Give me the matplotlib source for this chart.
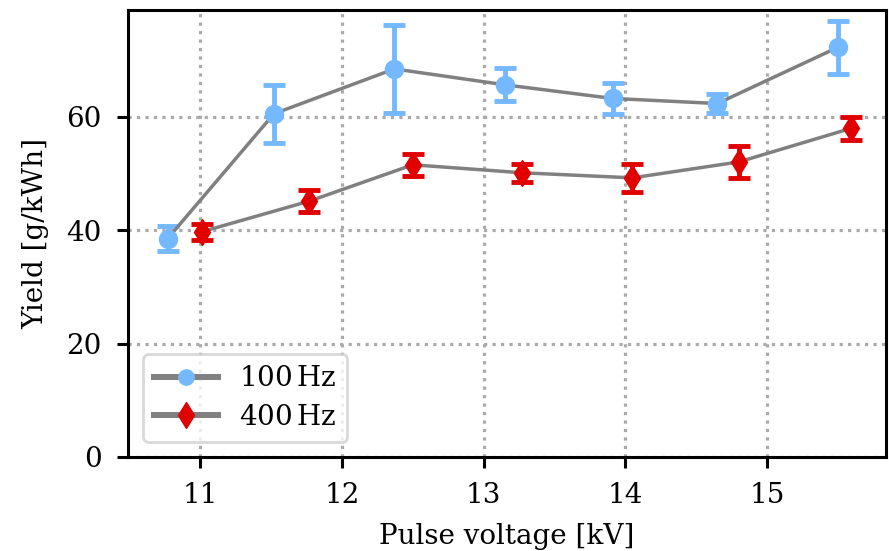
import matplotlib
matplotlib.use("Agg")
import matplotlib.pyplot as plt
from matplotlib.lines import Line2D

plt.rcParams['font.family'] = ['DejaVu Serif']
plt.rcParams['mathtext.fontset'] = 'dejavuserif'

x100 = [10.77, 11.52, 12.37, 13.15, 13.91, 14.65, 15.50]
y100 = [38.5, 60.5, 68.4, 65.6, 63.2, 62.3, 72.2]
e100 = [2.2, 5.1, 7.8, 2.9, 2.7, 1.6, 4.7]

x400 = [11.01, 11.77, 12.50, 13.27, 14.05, 14.80, 15.59]
y400 = [39.7, 45.1, 51.5, 50.1, 49.2, 52.0, 57.9]
e400 = [1.4, 2.0, 1.9, 1.6, 2.5, 2.9, 2.0]

labels = ['100$\\,$Hz', '400$\\,$Hz']
c100 = '#74b9ff'
c400 = '#e00000'

fig = plt.figure(figsize=(8.89, 5.51), dpi=100)
ax = fig.add_axes([0.144, 0.1706, 0.8526, 0.8114])

ax.errorbar(x100, y100, yerr=e100, color='gray', lw=2.5, marker='o', ms=13,
            mfc=c100, mec=c100, ecolor=c100, elinewidth=3.5,
            capsize=8, capthick=3.5, zorder=3)
ax.errorbar(x400, y400, yerr=e400, color='gray', lw=2.5, marker='d', ms=13,
            mfc=c400, mec=c400, ecolor=c400, elinewidth=3.5,
            capsize=8, capthick=3.5, zorder=3)

ax.set_xlim(10.49, 15.84)
ax.set_ylim(0, 78.8)
ax.set_xticks([11, 12, 13, 14, 15])
ax.set_yticks([0, 20, 40, 60])
ax.grid(True, linestyle=':', color='#aaaaaa', lw=2.3)
ax.set_axisbelow(True)
for s in ax.spines.values():
    s.set_linewidth(2.2)
ax.tick_params(labelsize=20, width=2.2, length=8)
ax.tick_params(axis='x', pad=10)
ax.tick_params(axis='y', pad=11)
ax.set_xlabel('Pulse voltage [kV]', fontsize=20, labelpad=10)
ax.set_ylabel('Yield [g/kWh]', fontsize=20, labelpad=12)

handles = [Line2D([], [], color='gray', lw=4.3, marker='o', ms=11, mfc=c100, mec=c100),
           Line2D([], [], color='gray', lw=4.3, marker='d', ms=13, mfc=c400, mec=c400)]
leg = ax.legend(handles, labels, loc='lower left', fontsize=20, handlelength=2.3,
                framealpha=0.8, edgecolor='#d0d0d0', borderpad=0.4,
                labelspacing=0.4, handletextpad=0.75, borderaxespad=0.55)
leg.get_frame().set_linewidth(2)

fig.savefig('out.png', dpi=100)
